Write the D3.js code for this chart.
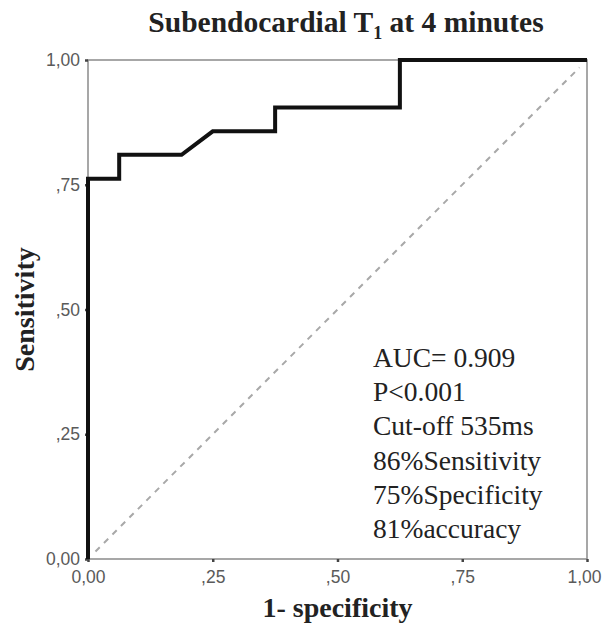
<!DOCTYPE html>
<html>
<head>
<meta charset="utf-8">
<script src="https://cdn.jsdelivr.net/npm/d3@7"></script>
<style>
  body { margin: 0; background: #fff; }
</style>
</head>
<body>
<div id="chart"></div>
<script>
// ROC curve points (1-specificity, sensitivity)
var fpr = [0, 0, 0.0625, 0.0625, 0.1875, 0.25, 0.375, 0.375, 0.625, 0.625, 1];
var tpr = [0, 0.762, 0.762, 0.810, 0.810, 0.857, 0.857, 0.905, 0.905, 1, 1];
var refLine = [0.015, 0.985];
var tickValues = [0, 0.25, 0.5, 0.75, 1];
var tickLabels = ["0,00", ",25", ",50", ",75", "1,00"];
var notes = ["AUC= 0.909", "P<0.001", "Cut-off 535ms", "86%Sensitivity", "75%Specificity", "81%accuracy"];

var width = 603, height = 631;
var margin = {left: 88, top: 60, right: 16, bottom: 72};

var svg = d3.select("#chart")
  .append("svg")
  .attr("width", width)
  .attr("height", height);

var x = d3.scaleLinear()
  .domain([0, 1])
  .range([margin.left, width - margin.right]);

var y = d3.scaleLinear()
  .domain([0, 1])
  .range([height - margin.bottom, margin.top]);

// frame
svg.append("rect")
  .attr("x", x(0))
  .attr("y", y(1))
  .attr("width", x(1) - x(0))
  .attr("height", y(0) - y(1))
  .attr("fill", "none")
  .attr("stroke", "#8a8a8a")
  .attr("stroke-width", 1.5);

// axes
var xAxis = d3.axisBottom(x)
  .tickValues(tickValues)
  .tickSize(3)
  .tickPadding(6)
  .tickFormat(function(d, i) { return tickLabels[i]; });

var yAxis = d3.axisLeft(y)
  .tickValues(tickValues)
  .tickSize(3)
  .tickPadding(5)
  .tickFormat(function(d, i) { return tickLabels[i]; });

var gx = svg.append("g")
  .attr("transform", "translate(0," + y(0) + ")")
  .call(xAxis);

var gy = svg.append("g")
  .attr("transform", "translate(" + x(0) + ",0)")
  .call(yAxis);

[gx, gy].forEach(function(g) {
  g.select(".domain").remove();
  g.selectAll(".tick line").attr("stroke", "#444").attr("stroke-width", 2.5);
  g.selectAll(".tick text")
    .attr("fill", "#5a5a5a")
    .style("font-family", "'Liberation Sans', Arial, sans-serif")
    .style("font-size", "17.5px");
});
gx.selectAll(".tick text").attr("dy", "0.85em");
// keep the last label inside the page
gx.selectAll(".tick text").filter(function(d) { return d === 1; })
  .attr("text-anchor", "end")
  .attr("x", 14);

// reference diagonal
var line = d3.line()
  .x(function(d) { return x(d[0]); })
  .y(function(d) { return y(d[1]); });

svg.append("path")
  .attr("d", line(refLine.map(function(v) { return [v, v]; })))
  .attr("fill", "none")
  .attr("stroke", "#a8a8a8")
  .attr("stroke-width", 2)
  .attr("stroke-dasharray", "6,6");

// ROC curve
var rocPts = fpr.map(function(f, i) { return [f, tpr[i]]; });
svg.append("path")
  .attr("d", line(rocPts))
  .attr("fill", "none")
  .attr("stroke", "#111")
  .attr("stroke-width", 4)
  .attr("stroke-linejoin", "miter");

// title
var title = svg.append("text")
  .attr("x", 346)
  .attr("y", 32)
  .attr("text-anchor", "middle")
  .style("font-family", "'Liberation Serif', 'Times New Roman', serif")
  .style("font-weight", "bold")
  .style("font-size", "29.5px")
  .attr("fill", "#222");
title.append("tspan").text("Subendocardial T");
title.append("tspan").attr("dy", 7).style("font-size", "18px").text("1");
title.append("tspan").attr("dy", -7).text(" at 4 minutes");

// axis titles
svg.append("text")
  .attr("x", x(0.5))
  .attr("y", 617)
  .attr("text-anchor", "middle")
  .style("font-family", "'Liberation Serif', 'Times New Roman', serif")
  .style("font-weight", "bold")
  .style("font-size", "28px")
  .attr("fill", "#222")
  .text("1- specificity");

svg.append("text")
  .attr("transform", "translate(34," + y(0.5) + ") rotate(-90)")
  .attr("text-anchor", "middle")
  .style("font-family", "'Liberation Serif', 'Times New Roman', serif")
  .style("font-weight", "bold")
  .style("font-size", "28px")
  .attr("fill", "#222")
  .text("Sensitivity");

// annotation
svg.append("g")
  .selectAll("text")
  .data(notes)
  .enter()
  .append("text")
  .attr("x", 373)
  .attr("y", function(d, i) { return 367 + i * 34.2; })
  .style("font-family", "'Liberation Serif', 'Times New Roman', serif")
  .style("font-size", "27.5px")
  .attr("fill", "#222")
  .text(function(d) { return d; });
</script>
</body>
</html>
